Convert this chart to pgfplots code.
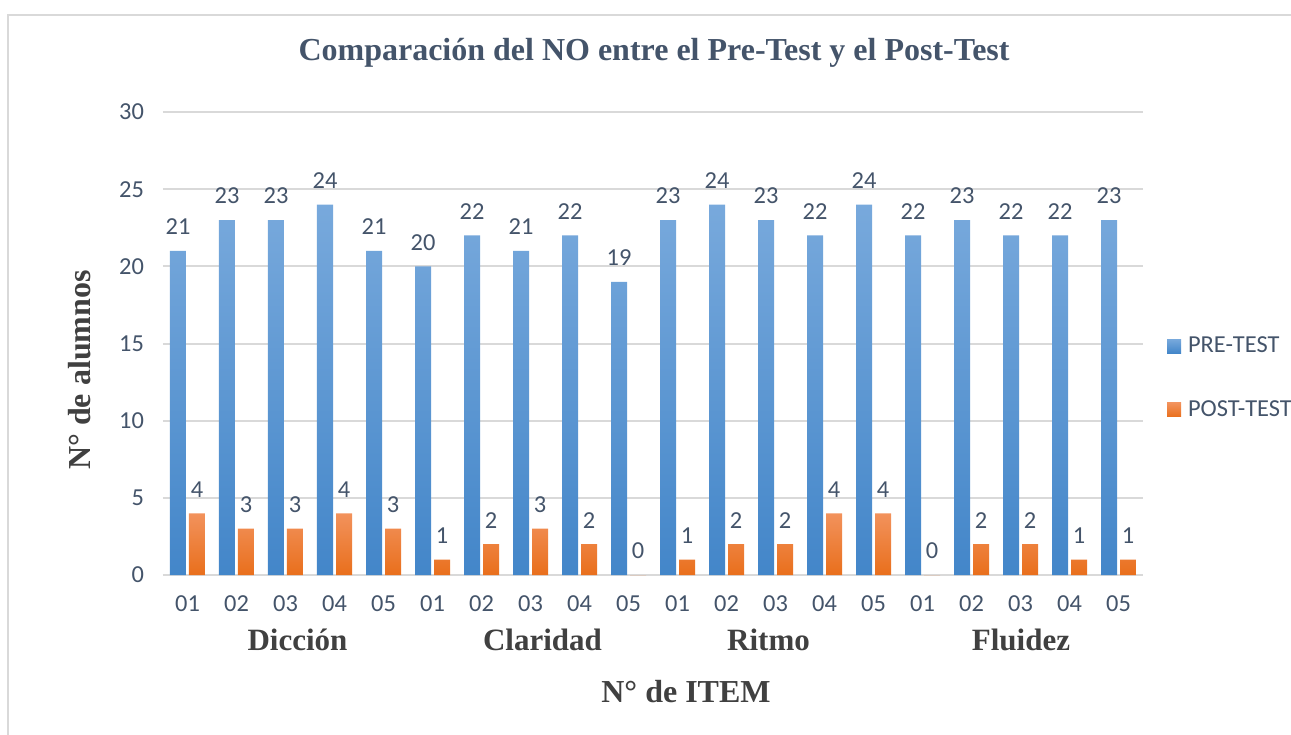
\documentclass[border=0pt]{standalone}
\usepackage{pgfplots}
\pgfplotsset{compat=1.18}
\usepackage{fontspec}
\setmainfont{Liberation Serif}
\newfontfamily\calibri{Carlito}
\definecolor{gridgray}{HTML}{D9D9D9}
\definecolor{slate}{HTML}{44546A}
\definecolor{darktxt}{HTML}{404040}
\definecolor{blueTop}{HTML}{78A9DC}
\definecolor{blueBot}{HTML}{4386C9}
\definecolor{orTop}{HTML}{F2925C}
\definecolor{orBot}{HTML}{E96F1C}
\newcommand{\smallcal}{\calibri\fontsize{12.2}{14}\selectfont}
\newcommand{\bigser}{\bfseries\fontsize{16}{19}\selectfont}
\newcommand{\catser}{\bfseries\fontsize{15.5}{18}\selectfont}
\begin{document}
\begin{tikzpicture}
  % 1 px of the reference = 0.5pt, origin at the bottom left of the plot area
  \useasboundingbox (-81.5pt,-79.5pt) rectangle (564pt,287.5pt);
  \draw[gridgray, line width=0.6pt] (-77.5pt,-80pt) -- (-77.5pt,280pt) -- (565pt,280pt);
  \begin{axis}[
    at={(0pt,0pt)}, anchor=south west,
    scale only axis,
    width=490pt, height=231.5pt,
    ybar, bar width=8pt,
    xmin=-0.5, xmax=19.5,
    ymin=0, ymax=30,
    ytick={0,5,...,30},
    xtick={0,...,19},
    xticklabels={01,02,03,04,05,01,02,03,04,05,01,02,03,04,05,01,02,03,04,05},
    /pgf/number format/assume math mode=true,
    ticklabel style={font=\smallcal, text=slate},
    xticklabel style={yshift=-7pt},
    yticklabel style={xshift=-6pt},
    major tick length=0pt,
    axis line style={draw=none},
    ymajorgrids,
    major grid style={gridgray, line width=1pt},
    nodes near coords,
    every node near coord/.append style={font=\smallcal, text=slate, yshift=4.5pt},
    legend style={at={(1.018,0.4255)}, anchor=west, draw=none, fill=none,
      font=\smallcal, text=slate, row sep=18.5pt},
    legend cell align=left,
    clip=false,
  ]
    \addplot[bar shift=-4.75pt, draw=none, top color=blueTop, bottom color=blueBot,
      legend image code/.code={\shade[top color=blueTop, bottom color=blueBot] (0pt,-3.5pt) rectangle (7pt,3.5pt);
        \path (8.5pt,0pt);}]
      coordinates {
      (0,21) (1,23) (2,23) (3,24) (4,21)
      (5,20) (6,22) (7,21) (8,22) (9,19)
      (10,23) (11,24) (12,23) (13,22) (14,24)
      (15,22) (16,23) (17,22) (18,22) (19,23)
    };
    \addlegendentry{PRE-TEST}
    \addplot[bar shift=4.75pt, draw=none, top color=orTop, bottom color=orBot,
      legend image code/.code={\shade[top color=orTop, bottom color=orBot] (0pt,-3.5pt) rectangle (7pt,3.5pt);
        \path (8.5pt,0pt);}]
      coordinates {
      (0,4) (1,3) (2,3) (3,4) (4,3)
      (5,1) (6,2) (7,3) (8,2) (9,0)
      (10,1) (11,2) (12,2) (13,4) (14,4)
      (15,0) (16,2) (17,2) (18,1) (19,1)
    };
    \addlegendentry{POST-TEST}
  \end{axis}
  \node[text=slate, font=\bigser] at (245.5pt,261pt) {Comparación del NO entre el Pre-Test y el Post-Test};
  \node[text=darktxt, font=\bigser, rotate=90] at (-41.5pt,102.5pt) {N° de alumnos};
  \node[text=darktxt, font=\bigser] at (261.5pt,-58.5pt) {N° de ITEM};
  \node[text=darktxt, font=\catser] at (67.25pt,-32.5pt) {Dicción};
  \node[text=darktxt, font=\catser] at (189.75pt,-32.5pt) {Claridad};
  \node[text=darktxt, font=\catser] at (302.75pt,-32.5pt) {Ritmo};
  \node[text=darktxt, font=\catser] at (429pt,-32.5pt) {Fluidez};
\end{tikzpicture}
\end{document}
